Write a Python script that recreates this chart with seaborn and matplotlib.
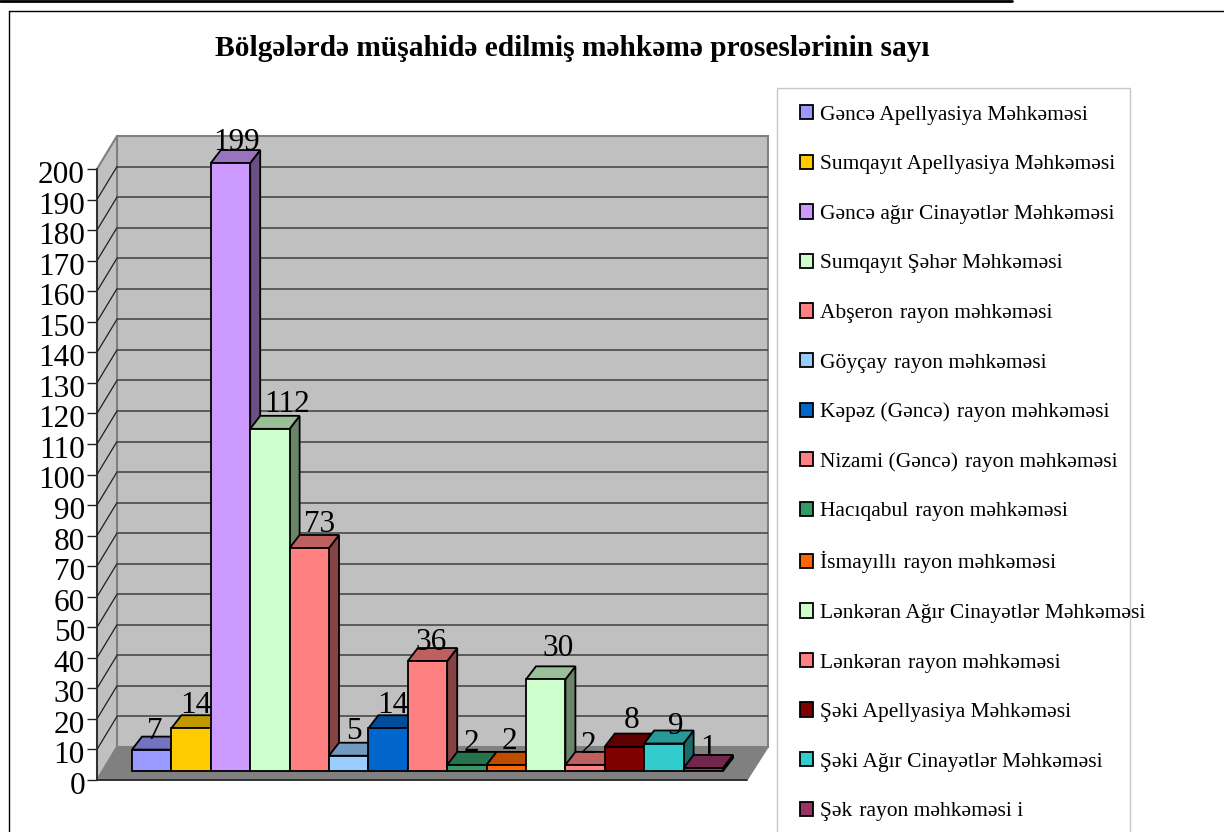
import matplotlib
matplotlib.use('Agg')
import matplotlib.pyplot as plt
from matplotlib.colors import to_rgb
from matplotlib.lines import Line2D
from matplotlib.patches import Patch, Polygon, Rectangle
from matplotlib.transforms import ScaledTranslation
import pandas as pd
import seaborn as sns

courts = [
    'Gəncə Apellyasiya Məhkəməsi', 'Sumqayıt Apellyasiya Məhkəməsi',
    'Gəncə ağır Cinayətlər Məhkəməsi', 'Sumqayıt Şəhər Məhkəməsi',
    'Abşeron \u200arayon məhkəməsi', 'Göyçay \u200arayon məhkəməsi',
    'Kəpəz (Gəncə) \u200arayon məhkəməsi', 'Nizami (Gəncə) \u200arayon məhkəməsi',
    'Hacıqabul \u200arayon məhkəməsi', 'İsmayıllı \u200arayon məhkəməsi',
    'Lənkəran Ağır Cinayətlər Məhkəməsi', 'Lənkəran \u200arayon məhkəməsi',
    'Şəki Apellyasiya Məhkəməsi', 'Şəki Ağır Cinayətlər Məhkəməsi',
    'Şək \u200arayon məhkəməsi i',
]
cases = [7, 14, 199, 112, 73, 5, 14, 36, 2, 2, 30, 2, 8, 9, 1]
colors = [
    '#9999FF', '#FFCC00', '#CC99FF', '#CCFFCC', '#FF8080',
    '#99CCFF', '#0066CC', '#FF8080', '#339966', '#FF6600',
    '#CCFFCC', '#FF8080', '#800000', '#33CCCC', '#993366',
]
y_ticks = list(range(0, 201, 10))
title = 'Bölgələrdə müşahidə edilmiş məhkəmə proseslərinin sayı'

# label offsets from the bar centre and from the back of the bar top, in pixels
label_nudge = [3, 5, 6, 17, 10, 5, 5, 4, 5, 3, 12, 3, 7, 12, 5]
label_lift = [-2, 2, 0, 4, 3, 4, 2, -2, 1, 3, 10, -1, 6, -3, -1]

W, H = 1224, 832
px_x = 39.4    # pixels per category
px_y = 3.055   # pixels per count


def fx(p):
    return p / W


def fy(p):
    return 1 - p / H


def shade(color, k):
    return tuple(c * k for c in to_rgb(color))


sns.set_style('white')
plt.rcParams['font.family'] = ['Liberation Serif', 'DejaVu Serif']

df = pd.DataFrame({'court': courts, 'cases': cases})

fig = plt.figure(figsize=(W / 100, H / 100), dpi=100, facecolor='white')
ax = fig.add_axes([fx(97), fy(780), (768 - 97) / W, (780 - 135) / H])
ax.patch.set_visible(False)

# depth of the box and of the bars, in data units
wall_dx, wall_dy = 20 / px_x, 33 / px_y
bar_dx, bar_dy = 10 / px_x, 13 / px_y
base = 9 / px_y
edge = 1.3

sns.barplot(data=df, x='court', y='cases', hue='court', palette=colors, order=courts,
            hue_order=courts, width=1, bottom=base, edgecolor='black', linewidth=edge,
            saturation=1, legend=False, ax=ax, zorder=5)

x_left = (97 - 151.7) / px_x
x_right = (768 - 151.7) / px_x
x_floor = (747 - 151.7) / px_x
ax.set_xlim(x_left, x_right)
ax.set_ylim(0, 645 / px_y)

# walls and floor
back_x = x_left + wall_dx
ax.add_patch(Rectangle((back_x, wall_dy), x_right - back_x, 200, fc='#C0C0C0', ec='#808080', lw=1.5,
                       zorder=1, clip_on=False))
ax.add_patch(Polygon([(x_left, 0), (back_x, wall_dy), (back_x, 200 + wall_dy), (x_left, 200)],
                     fc='#C0C0C0', ec='#808080', lw=1.5, zorder=1, clip_on=False))
ax.add_patch(Polygon([(x_left, 0), (back_x, wall_dy), (x_right, wall_dy), (x_floor, 0)],
                     fc='#808080', ec='#808080', lw=1, zorder=2, clip_on=False))
ax.plot([x_left, x_floor], [0, 0], color='#202020', lw=1.2, zorder=3, clip_on=False)

# grid on both walls
for v in y_ticks[1:-1]:
    ax.plot([x_left, back_x], [v, v + wall_dy], color='#202020', lw=0.9, zorder=2)
    ax.plot([back_x, x_right], [v + wall_dy, v + wall_dy], color='#404040', lw=1.1, zorder=2)

# side and top face of every bar, later bars cover earlier ones
for i, (bar, value, color) in enumerate(zip(ax.patches, cases, colors)):
    x0, x1 = bar.get_x(), bar.get_x() + bar.get_width()
    y0, y1 = base, base + value
    z = 5 + i
    bar.set_zorder(z + 0.2)
    ax.add_patch(Polygon([(x1, y0), (x1 + bar_dx, y0 + bar_dy), (x1 + bar_dx, y1 + bar_dy), (x1, y1)],
                         fc=shade(color, 0.52), ec='black', lw=edge, zorder=z))
    ax.add_patch(Polygon([(x0, y1), (x0 + bar_dx, y1 + bar_dy), (x1 + bar_dx, y1 + bar_dy), (x1, y1)],
                         fc=shade(color, 0.75), ec='black', lw=edge, zorder=z))
    ax.text(i + label_nudge[i] / px_x, y1 + bar_dy + label_lift[i] / px_y, str(value), ha='center',
            va='baseline', fontsize=22.5, color='black', zorder=30, clip_on=False)

for name, spine in ax.spines.items():
    spine.set_visible(name == 'left')
ax.spines['left'].set_bounds(0, 200)
ax.spines['left'].set_color('#202020')
ax.spines['left'].set_linewidth(1.2)
ax.spines['left'].set_zorder(4)
ax.set_xticks([])
ax.set_yticks(y_ticks)
ax.tick_params(axis='y', left=True, length=7.2, width=1, color='#202020', labelsize=22.5,
               labelcolor='black', pad=1.5)
for lab in ax.get_yticklabels():
    lab.set_transform(lab.get_transform() + ScaledTranslation(0, -3 / 100, fig.dpi_scale_trans))
ax.set_xlabel('')
ax.set_ylabel('')

fig.text(fx(572.5), fy(48.5), title, ha='center', va='center', fontsize=21.2, fontweight='bold', color='black')

# legend box runs off the bottom of the picture, text may pass its right edge
fig.add_artist(Rectangle((fx(777), fy(900)), (1130 - 777) / W, (900 - 88) / H, transform=fig.transFigure,
                         fc='white', ec='#C8C8C8', lw=1))
handles = [Patch(fc=c, ec='black', lw=1.3) for c in colors]
fig.legend(handles, courts, loc='upper left', bbox_to_anchor=(fx(799.5), fy(105)), bbox_transform=fig.transFigure,
           frameon=False, fontsize=15.47, handlelength=0.65, handleheight=0.65, handletextpad=0.3,
           labelspacing=1.39, borderpad=0, borderaxespad=0, labelcolor='black')

# page lines around the chart
fig.add_artist(Line2D([0, fx(1012)], [fy(1), fy(1)], color='black', lw=2))
fig.add_artist(Line2D([fx(8.5), 1], [fy(11), fy(11)], color='black', lw=1))
fig.add_artist(Line2D([fx(8.5), fx(8.5)], [fy(11), 0], color='black', lw=1))

fig.savefig('out.png', dpi=100)
